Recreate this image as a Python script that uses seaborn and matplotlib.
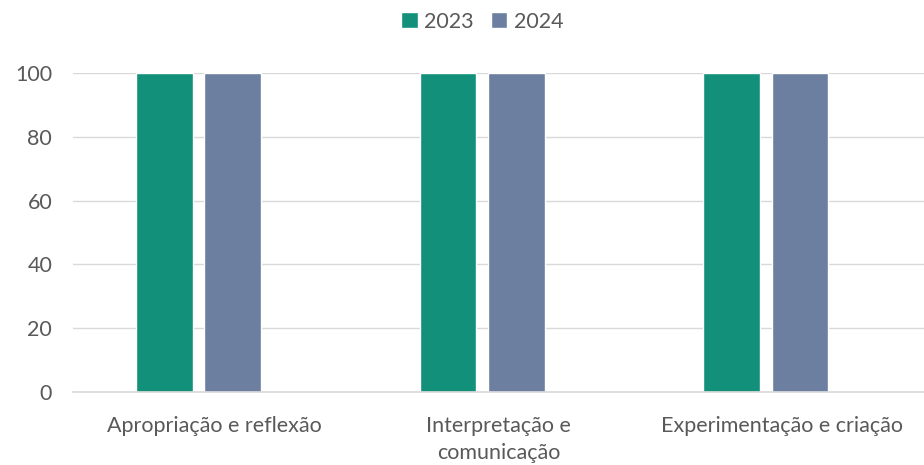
import matplotlib
matplotlib.use("Agg")
import matplotlib.pyplot as plt
import seaborn as sns
import pandas as pd

categories = ["Apropriação e reflexão", "Interpretação e\ncomunicação", "Experimentação e criação"]
years = ["2023", "2024"]
values_2023 = [100, 100, 100]
values_2024 = [100, 100, 100]
yticks = [0, 20, 40, 60, 80, 100]

colors = {"2023": "#12907A", "2024": "#6C7FA0"}
text_color = "#595959"

df = pd.DataFrame({
    "cat": categories * 2,
    "year": [years[0]] * 3 + [years[1]] * 3,
    "val": values_2023 + values_2024,
})

sns.set_theme(style="white")
plt.rcParams["font.family"] = ["Lato", "DejaVu Sans"]

fig = plt.figure(figsize=(9.24, 4.65), dpi=100)
ax = fig.add_axes([0.079, 0.157, 0.921, 0.686])

sns.barplot(data=df, x="cat", y="val", hue="year", palette=colors,
            width=0.482, gap=0.17, ax=ax, legend=True, saturation=1)

# shift groups left (chart reserves space as in reference)
for p in ax.patches:
    if p.get_width() > 0:
        p.set_x(p.get_x() - 0.0575)

ax.set_xlim(-0.5, 2.5)
ax.set_ylim(0, 100)
ax.set_yticks(yticks)
ax.set_xlabel("")
ax.set_ylabel("")
ax.grid(axis="y", color="#D9D9D9", linewidth=1)
ax.set_axisbelow(True)
for s in ["left", "right", "top"]:
    ax.spines[s].set_visible(False)
ax.spines["bottom"].set_color("#D9D9D9")
ax.spines["bottom"].set_linewidth(1.2)
ax.tick_params(axis="both", length=0, labelsize=15.5, colors=text_color)
ax.tick_params(axis="x", pad=17)
ax.tick_params(axis="y", pad=15)
for lbl in ax.get_xticklabels():
    lbl.set_linespacing(1.45)

handles, labels = ax.get_legend_handles_labels()
ax.legend_.remove()
fig.legend(handles, labels, loc="center", bbox_to_anchor=(0.522, 0.953), ncol=2,
           frameon=False, fontsize=15.5, handlelength=0.75, handleheight=0.75,
           handletextpad=0.3, columnspacing=0.8, labelcolor=text_color)

fig.savefig("out.png", dpi=100)
